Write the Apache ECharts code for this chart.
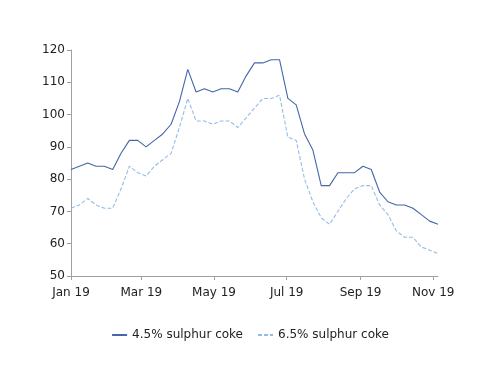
<!DOCTYPE html>
<html>
<head>
<meta charset="utf-8">
<script src="https://cdn.jsdelivr.net/npm/echarts@6/dist/echarts.min.js"></script>
<style>html,body{margin:0;padding:0;background:#fff}#c{width:500px;height:386px}</style>
</head>
<body>
<div id="c"></div>
<script>
var dates = ['2019-01-01','2019-01-08','2019-01-15','2019-01-22','2019-01-29','2019-02-05','2019-02-12','2019-02-19','2019-02-26',
'2019-03-05','2019-03-12','2019-03-19','2019-03-26','2019-04-02','2019-04-09','2019-04-16','2019-04-23','2019-04-30',
'2019-05-07','2019-05-14','2019-05-21','2019-05-28','2019-06-04','2019-06-11','2019-06-18','2019-06-25',
'2019-07-02','2019-07-09','2019-07-16','2019-07-23','2019-07-30','2019-08-06','2019-08-13','2019-08-20','2019-08-27',
'2019-09-03','2019-09-10','2019-09-17','2019-09-24','2019-10-01','2019-10-08','2019-10-15','2019-10-22','2019-10-29','2019-11-05'];
var coke45 = [83,84,85,84,84,83,88,92,92,90,92,94,97,104,114,107,108,107,108,108,107,112,116,116,117,117,105,103,94,89,78,78,82,82,82,84,83,76,73,72,72,71,69,67,66];
var coke65 = [71,72,74,72,71,71,77,84,82,81,84,86,88,96,105,98,98,97,98,98,96,99,102,105,105,106,93,92,80,73,68,66,70,74,77,78,78,72,69,64,62,62,59,58,57];
var tickDates = ['2019-01-01','2019-03-01','2019-05-01','2019-07-01','2019-09-01','2019-11-01'];
var tickLabels = ['Jan 19','Mar 19','May 19','Jul 19','Sep 19','Nov 19'];
var seriesNames = ['4.5% sulphur coke','6.5% sulphur coke'];
var yTicks = [50,60,70,80,90,100,110,120];

var DAY = 86400000;
var t0 = Date.parse(dates[0] + 'T00:00:00Z');
var dayOf = function(s){ return Math.round((Date.parse(s + 'T00:00:00Z') - t0) / DAY); };
var tickDays = tickDates.map(dayOf);
var chart = echarts.init(document.getElementById('c'), null, {renderer:'canvas'});
var font = 'DejaVu Sans';
chart.setOption({
  animation: false,
  backgroundColor: '#fff',
  grid: {left: 71, right: 62, top: 50, bottom: 110},
  xAxis: {
    type: 'value',
    min: dayOf(dates[0]),
    max: dayOf(dates[dates.length-1]),
    axisLine: {show: true, lineStyle: {color: '#a0a0a0', width: 1}},
    axisTick: {show: true, length: 4, inside: false, customValues: tickDays, lineStyle: {color: '#a0a0a0'}},
    axisLabel: {
      customValues: tickDays,
      color: '#222', fontSize: 12, fontFamily: font, margin: 11,
      showMinLabel: true, showMaxLabel: true, hideOverlap: false,
      formatter: function(v){ var i = tickDays.indexOf(v); return i >= 0 ? tickLabels[i] : ''; }
    },
    splitLine: {show: false}
  },
  yAxis: {
    type: 'value',
    min: yTicks[0], max: yTicks[yTicks.length-1], interval: 10,
    axisLine: {show: true, lineStyle: {color: '#a0a0a0', width: 1}},
    axisTick: {show: true, length: 4, lineStyle: {color: '#a0a0a0'}},
    axisLabel: {color: '#222', fontSize: 12, fontFamily: font, margin: 6},
    splitLine: {show: false}
  },
  legend: {
    top: 324, left: 'center',
    itemWidth: 15, itemHeight: 10, itemGap: 14,
    itemStyle: {opacity: 0},
    textStyle: {color: '#222', fontSize: 12, fontFamily: font},
    data: seriesNames
  },
  series: [
    {name: seriesNames[0], type: 'line', symbol: 'none', smooth: false,
     data: dates.map(function(d,i){ return [dayOf(d), coke45[i]]; }),
     lineStyle: {color: '#4566a8', width: 1.1}, itemStyle: {color: '#4566a8'}},
    {name: seriesNames[1], type: 'line', symbol: 'none', smooth: false,
     data: dates.map(function(d,i){ return [dayOf(d), coke65[i]]; }),
     lineStyle: {color: '#94bde6', width: 1.1, type: [4,2]}, itemStyle: {color: '#94bde6'}}
  ]
});
</script>
</body>
</html>
